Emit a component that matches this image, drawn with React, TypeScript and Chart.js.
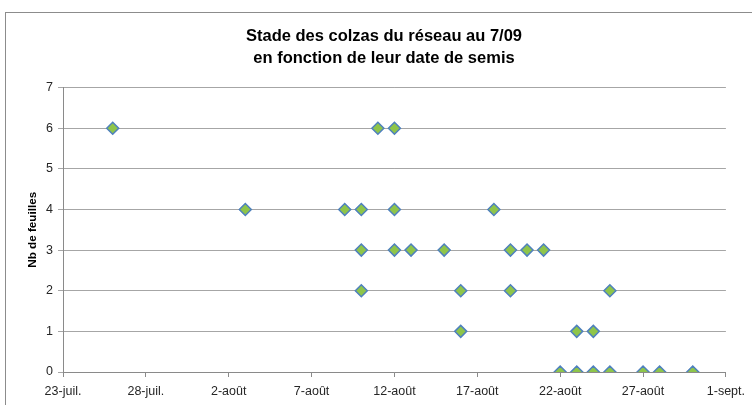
import React, { useEffect, useRef } from "react";
import { Chart, registerables } from "chart.js";

Chart.register(...registerables);

const TITLE_LINES = ["Stade des colzas du réseau au 7/09", "en fonction de leur date de semis"];
const Y_TITLE = "Nb de feuilles";
// x tick labels every 5 days, starting 23 July (day 0)
const X_TICK_LABELS = ["23-juil.", "28-juil.", "2-août", "7-août", "12-août", "17-août", "22-août", "27-août", "1-sept."];
// sowing date as days after 23 July
const sowingDay = [3, 19, 20, 11, 17, 18, 20, 26, 18, 20, 21, 23, 27, 28, 29, 18, 24, 27, 33, 24, 31, 32, 30, 31, 32, 33, 35, 36, 38];
// number of leaves on 7/09
const leafCount = [6, 6, 6, 4, 4, 4, 4, 4, 3, 3, 3, 3, 3, 3, 3, 2, 2, 2, 2, 1, 1, 1, 0, 0, 0, 0, 0, 0, 0];

const titleShift = {
  id: "titleShift",
  afterLayout(chart: any) {
    const tb = chart.titleBlock;
    if (tb) {
      tb.left = 41;
      tb.right = 727;
      tb.width = tb.right - tb.left;
    }
  },
};

export default function App() {
  const ref = useRef<HTMLCanvasElement>(null);
  useEffect(() => {
    if (!ref.current) return;
    const points = sowingDay.map((d, i) => ({ x: d, y: leafCount[i] }));
    const chart = new Chart(ref.current, {
      type: "scatter",
      data: {
        datasets: [
          {
            data: points,
            pointStyle: "rectRot",
            pointRadius: 6,
            pointHoverRadius: 6,
            backgroundColor: "#8EC54A",
            borderColor: "#4F81BD",
            borderWidth: 1.5,
          },
        ],
      },
      plugins: [titleShift],
      options: {
        animation: false,
        responsive: false,
        devicePixelRatio: 1,
        layout: { padding: { left: 0, right: 25, top: 0, bottom: 0 } },
        plugins: {
          legend: { display: false },
          tooltip: { enabled: false },
          title: {
            display: true,
            text: TITLE_LINES,
            color: "#000",
            font: { family: "'Liberation Sans', Arial, sans-serif", size: 16.5, weight: "bold", lineHeight: 1.35 },
            padding: { top: 25, bottom: 18 },
          },
        },
        scales: {
          x: {
            type: "linear",
            min: 0,
            max: 40,
            afterFit: (s: any) => {
              s.height = 33;
            },
            ticks: {
              stepSize: 5,
              autoSkip: false,
              maxRotation: 0,
              padding: 7,
              color: "#262626",
              font: { family: "'Liberation Sans', Arial, sans-serif", size: 12.5 },
              callback: (v: any) => X_TICK_LABELS[Math.round(Number(v) / 5)] ?? "",
            },
            grid: { drawOnChartArea: false, drawTicks: true, tickLength: 5, color: "#8a8a8a" },
            border: { display: true, color: "#8a8a8a" },
          },
          y: {
            min: 0,
            max: 7,
            afterFit: (s: any) => {
              s.width = 63;
            },
            ticks: {
              stepSize: 1,
              padding: 5,
              color: "#262626",
              font: { family: "'Liberation Sans', Arial, sans-serif", size: 12.5 },
            },
            grid: { color: "#a6a6a6", tickLength: 5 },
            border: { display: true, color: "#8a8a8a" },
            title: {
              display: true,
              text: Y_TITLE,
              color: "#000",
              font: { family: "'Liberation Sans', Arial, sans-serif", size: 11.7, weight: "bold" },
              padding: { top: 26, bottom: 0 },
            },
          },
        },
      },
    });
    return () => chart.destroy();
  }, []);
  return (
    <div style={{ position: "fixed", left: 0, top: 0, width: 752, height: 405, background: "#fff", overflow: "hidden" }}>
      <div
        style={{
          position: "absolute",
          left: 5,
          top: 12,
          width: 800,
          height: 450,
          border: "1px solid #8c8c8c",
          boxSizing: "border-box",
        }}
      />
      <canvas ref={ref} width={752} height={405} style={{ position: "absolute", left: 0, top: 0, width: 752, height: 405 }} />
    </div>
  );
}
